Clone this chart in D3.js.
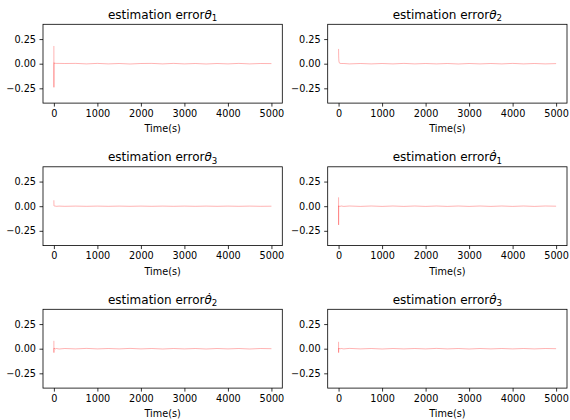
<!DOCTYPE html>
<html>
<head>
<meta charset="utf-8">
<script src="https://cdn.jsdelivr.net/npm/d3@7"></script>
<style>
  body { margin: 0; background: #fff; }
  svg { display: block; font-family: "DejaVu Sans", sans-serif; }
</style>
</head>
<body>
<svg id="chart" width="570" height="420"></svg>
<script>
// sample times (s) shared by every series
const times = [0, 1, 2, 4, 8, 15, 30, 60, 120, 250, 500, 750, 1000, 1250, 1500,
  1750, 2000, 2250, 2500, 2750, 3000, 3250, 3500, 3750, 4000, 4250, 4500, 4750, 5000];

// estimation errors
const errTheta1 = [0.18, -0.24, 0.01, 0.006, 0.005, 0.004, 0.004, 0.003, 0.003, 0.002,
  0.003, -0.002, 0.003, -0.002, 0.002, -0.003, 0.002, 0.003, -0.002, 0.003, -0.002, 0.002,
  -0.003, 0.002, -0.002, 0.003, -0.002, 0.002, 0.001];
const errTheta2 = [0.15, 0.12, 0.08, 0.05, 0.025, 0.01, 0.004, 0.002, 0.002, -0.002,
  0.002, -0.002, 0.002, -0.002, 0.003, -0.002, 0.002, -0.002, 0.002, -0.003, 0.002, -0.002,
  0.002, -0.002, 0.003, -0.002, 0.002, -0.002, 0.001];
const errTheta3 = [0.06, 0.03, 0.012, 0.004, 0.002, 0.001, 0.001, -0.001, 0.001, -0.001,
  0.001, -0.001, 0.001, -0.001, 0.001, -0.001, 0.001, -0.001, 0.001, -0.001, 0.001, -0.001,
  0.001, -0.001, 0.001, -0.001, 0.001, -0.001, 0.0];
const errDTheta1 = [0.09, -0.19, 0.004, 0.002, -0.002, 0.002, -0.002, 0.002, -0.002, 0.002,
  -0.002, 0.002, -0.002, 0.002, -0.002, 0.002, -0.002, 0.002, -0.002, 0.002, -0.002, 0.002,
  -0.002, 0.002, -0.002, 0.002, -0.002, 0.002, 0.0];
const errDTheta2 = [0.08, -0.04, 0.003, 0.002, -0.002, 0.003, -0.002, 0.002, -0.003, 0.002,
  -0.002, 0.003, -0.002, 0.002, -0.002, 0.003, -0.002, 0.002, -0.003, 0.002, -0.002, 0.002,
  -0.003, 0.002, -0.002, 0.002, -0.003, 0.002, 0.0];
const errDTheta3 = [0.07, -0.04, 0.003, 0.002, -0.002, 0.003, -0.002, 0.002, -0.002, 0.003,
  -0.002, 0.002, -0.003, 0.002, -0.002, 0.002, -0.002, 0.003, -0.002, 0.002, -0.003, 0.002,
  -0.002, 0.002, -0.002, 0.002, -0.002, 0.002, 0.0];

const panels = [
  { sym: "θ", sub: "1", values: errTheta1 },
  { sym: "θ", sub: "2", values: errTheta2 },
  { sym: "θ", sub: "3", values: errTheta3 },
  { sym: "θ\u0307", sub: "1", values: errDTheta1 },
  { sym: "θ\u0307", sub: "2", values: errDTheta2 },
  { sym: "θ\u0307", sub: "3", values: errDTheta3 },
];

const xTicks = [0, 1000, 2000, 3000, 4000, 5000];
const yTicks = [-0.25, 0, 0.25];
const yTickLabels = ["\u22120.25", "0.00", "0.25"];
const xLabel = "Time(s)";

// layout
const colLeft = [43, 327.7];
const rowTop = [24.3, 166.8, 309.3];
const axW = 239.3, axH = 78.8;
const tickFont = 9.7, titleFont = 12;

const svg = d3.select("#chart");

panels.forEach((p, i) => {
  const col = i % 2, row = Math.floor(i / 2);
  const g = svg.append("g").attr("transform", `translate(${colLeft[col]},${rowTop[row]})`);

  const x = d3.scaleLinear().domain([-250, 5250]).range([0, axW]);
  const y = d3.scaleLinear().domain([-0.4, 0.4]).range([axH, 0]);

  // data line
  const line = d3.line()
    .x((d, k) => x(times[k]))
    .y(d => y(d));
  g.append("path")
    .datum(p.values)
    .attr("d", line)
    .attr("fill", "none")
    .attr("stroke", "#ff0000")
    .attr("stroke-opacity", 0.5)
    .attr("stroke-width", 0.6);

  // axes
  const xAxis = d3.axisBottom(x).tickValues(xTicks).tickSize(3.5).tickPadding(3.5).tickFormat(d3.format("d"));
  const yAxis = d3.axisLeft(y).tickValues(yTicks).tickSize(3.5).tickPadding(3.5)
    .tickFormat((d, k) => yTickLabels[k]);

  const gx = g.append("g").attr("transform", `translate(0,${axH})`).call(xAxis);
  const gy = g.append("g").call(yAxis);
  [gx, gy].forEach(a => {
    a.select(".domain").remove();
    a.selectAll("line").attr("stroke", "#000").attr("stroke-width", 0.8);
    a.selectAll("text").attr("fill", "#000").style("font-size", tickFont + "px")
      .style("font-family", "DejaVu Sans");
  });

  // frame
  g.append("rect")
    .attr("width", axW).attr("height", axH)
    .attr("fill", "none").attr("stroke", "#000").attr("stroke-width", 0.8);

  // title
  const t = g.append("text")
    .attr("x", axW / 2).attr("y", -5.5)
    .attr("text-anchor", "middle")
    .style("font-size", titleFont + "px")
    .attr("fill", "#000");
  t.append("tspan").text("estimation error");
  t.append("tspan").style("font-style", "italic").text(p.sym);
  t.append("tspan").attr("dy", 2.5).style("font-size", (titleFont * 0.72) + "px").text(p.sub);

  // x label
  g.append("text")
    .attr("x", axW / 2).attr("y", axH + 29)
    .attr("text-anchor", "middle")
    .style("font-size", tickFont + "px")
    .attr("fill", "#000")
    .text(xLabel);
});
</script>
</body>
</html>
